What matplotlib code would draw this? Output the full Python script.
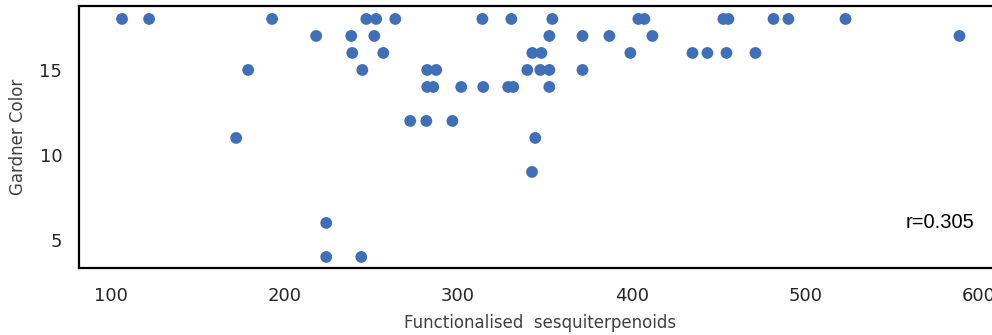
import numpy as np
import matplotlib
matplotlib.use('Agg')
import matplotlib.pyplot as plt

# Functionalised sesquiterpenoid content vs Gardner colour, grouped by colour grade
sesq_18 = [106.3, 121.9, 192.8, 247.1, 252.8, 263.8, 314.0, 330.7, 354.3, 403.9,
           407.4, 452.9, 455.8, 481.8, 490.4, 523.3]
sesq_17 = [218.2, 238.4, 251.7, 352.6, 371.7, 387.2, 412.0, 589.0]
sesq_16 = [239.0, 256.9, 342.8, 348.0, 399.3, 435.1, 443.7, 454.7, 471.4]
sesq_15 = [179.0, 244.8, 282.2, 287.4, 339.9, 347.4, 352.6, 371.7]
sesq_14 = [282.2, 285.7, 301.8, 314.5, 328.9, 331.8, 352.6]
sesq_12 = [272.4, 281.7, 296.7]
sesq_11 = [172.1, 344.5]
sesq_9 = [342.6]
sesq_6 = [224.0]
sesq_4 = [224.0, 244.2]

groups = {18: sesq_18, 17: sesq_17, 16: sesq_16, 15: sesq_15, 14: sesq_14,
          12: sesq_12, 11: sesq_11, 9: sesq_9, 6: sesq_6, 4: sesq_4}

x = np.concatenate([np.array(v) for v in groups.values()])
y = np.concatenate([np.full(len(v), k) for k, v in groups.items()])

r_text = 'r=0.305'

fig = plt.figure(figsize=(9.92, 3.35), dpi=100)
ax = fig.add_axes([79 / 992, 0.2, 923 / 992, 0.782])

ax.scatter(x, y, s=72, color='#3f6fb8', edgecolor='none', zorder=3)

ax.set_xlim(81.5, 613.5)
ax.set_ylim(3.35, 18.76)
ax.set_xticks([100, 200, 300, 400, 500, 600])
ax.set_yticks([5, 10, 15])

for s in ax.spines.values():
    s.set_linewidth(1.6)
    s.set_color('black')

ax.tick_params(axis='x', length=0, pad=14, labelsize=13, labelcolor='#262626')
ax.tick_params(axis='y', length=0, pad=12, labelsize=13, labelcolor='#262626')

ax.set_xlabel('Functionalised  sesquiterpenoids', fontsize=12, color='#404040', labelpad=6)
ax.set_ylabel('Gardner Color', fontsize=12, color='#404040', labelpad=9)

ax.text(558, 6, r_text, fontsize=14.5, family='Liberation Sans', va='center', ha='left')

fig.savefig('out.png', dpi=100)
